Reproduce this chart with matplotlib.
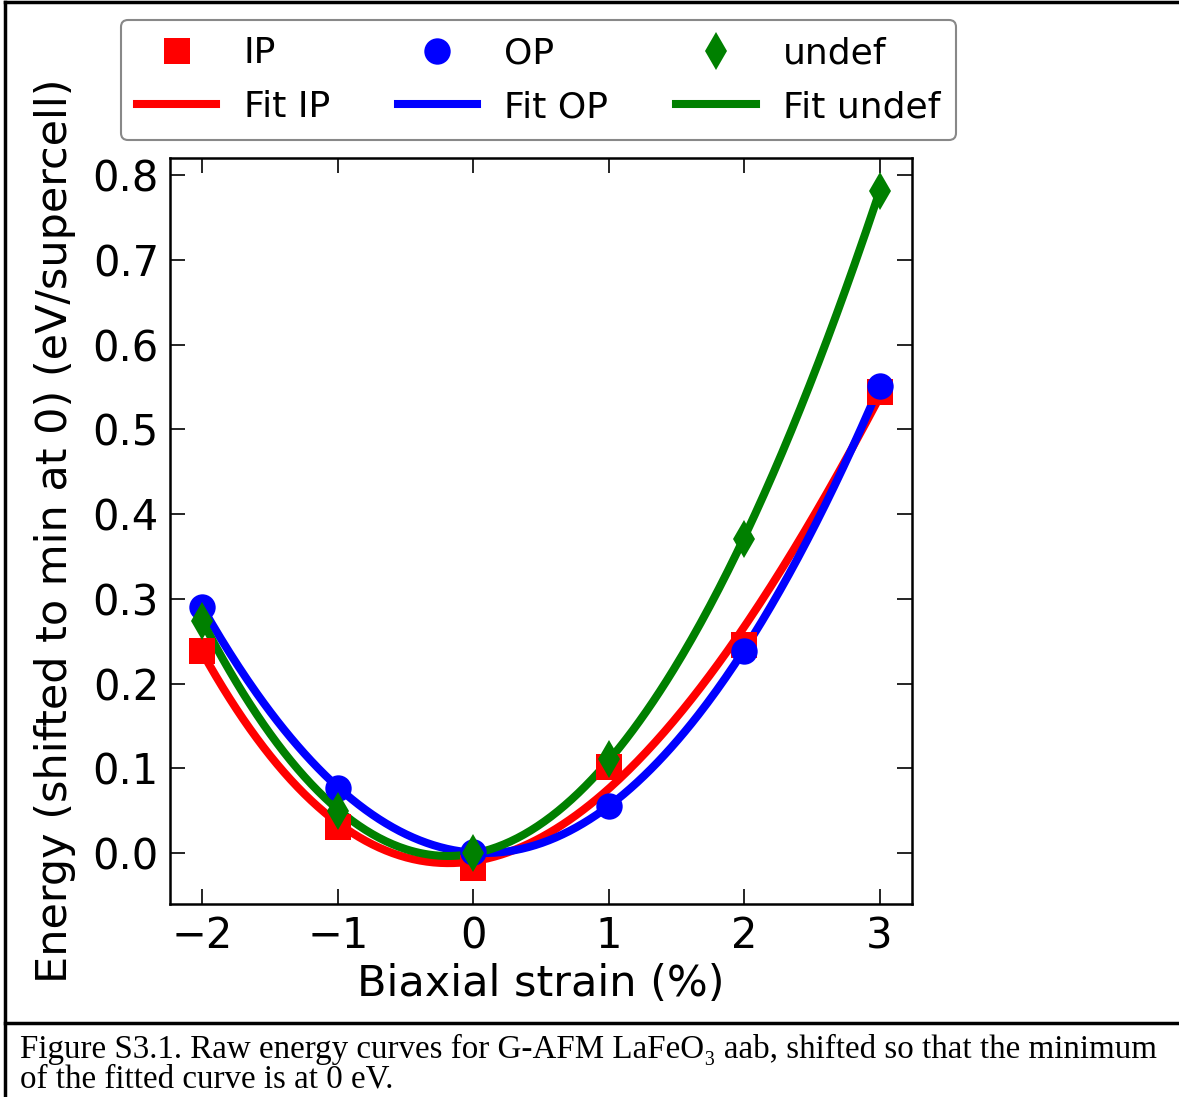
import numpy as np
import matplotlib
matplotlib.use("Agg")
import matplotlib.pyplot as plt
from matplotlib.lines import Line2D

strain = [-2, -1, 0, 1, 2, 3]
energy_ip = [0.239, 0.031, -0.018, 0.102, 0.245, 0.544]
energy_op = [0.290, 0.077, 0.001, 0.056, 0.239, 0.551]
energy_undef = [0.274, 0.050, 0.000, 0.111, 0.370, 0.781]
labels = ["IP", "OP", "undef"]
xticks = [-2, -1, 0, 1, 2, 3]
yticks = [0.0, 0.1, 0.2, 0.3, 0.4, 0.5, 0.6, 0.7, 0.8]
caption_lines = ["Figure S3.1. Raw energy curves for G-AFM LaFeO\u2083 aab, shifted so that the minimum",
                 "of the fitted curve is at 0 eV."]

plt.rcParams['font.family'] = ['DejaVu Sans']
W, H = 1179, 1097
fig = plt.figure(figsize=(W / 100, H / 100), dpi=100)

ax = fig.add_axes([170 / W, 1 - 904 / H, (912 - 170) / W, (904 - 158) / H])

series = [
    (energy_ip, 'red', 's', 19),
    (energy_op, 'blue', 'o', 19),
    (energy_undef, 'green', 'd', 19.5),
]
xs = np.array(strain, dtype=float)
xf = np.linspace(min(strain), max(strain), 300)
handles = []
for (ys, color, mk, ms), lab in zip(series, labels):
    h1, = ax.plot(xs, ys, linestyle='none', marker=mk, color=color,
                  markersize=ms, markeredgewidth=0, label=lab, zorder=3)
    coef = np.polyfit(xs, np.array(ys), 3)
    yf = np.polyval(coef, xf)
    h2, = ax.plot(xf, yf, '-', color=color, lw=5.8,
                  label="Fit " + lab, zorder=2)
    handles += [h1, h2]

ax.set_xlim(-2.24, 3.24)
ax.set_ylim(-0.06, 0.82)
ax.set_xticks(xticks)
ax.set_yticks(yticks)
ax.set_xticklabels([f"{t:d}".replace('-', '\u2212') for t in xticks])
ax.set_yticklabels([f"{t:.1f}" for t in yticks])
ax.tick_params(direction='in', length=11, width=1.2, labelsize=30,
               top=True, right=True, pad=8)
for sp in ax.spines.values():
    sp.set_linewidth(1.8)
ax.set_xlabel("Biaxial strain (%)", fontsize=31, labelpad=4)
ax.set_ylabel("Energy (shifted to min at 0) (eV/supercell)", fontsize=31, labelpad=12)

leg = fig.legend(handles=handles, loc='upper center',
                 bbox_to_anchor=(538.5 / W, 1 - 20 / H), ncol=3,
                 fontsize=26, numpoints=1, handlelength=2.2,
                 handletextpad=0.75, columnspacing=1.88, labelspacing=0.55,
                 borderpad=0.45, borderaxespad=0, fancybox=True, framealpha=1)
leg.get_frame().set_edgecolor('#888888')
leg.get_frame().set_linewidth(1.5)

# document-style frame
fig.add_artist(Line2D([5 / W, 1.0], [1 - 2 / H, 1 - 2 / H], color='black', lw=2.5,
                      transform=fig.transFigure))
fig.add_artist(Line2D([5 / W, 5 / W], [0, 1 - 2 / H], color='black', lw=2.5,
                      transform=fig.transFigure))
fig.add_artist(Line2D([5 / W, 1.0], [1 - 1023 / H, 1 - 1023 / H], color='black', lw=2.5,
                      transform=fig.transFigure))

for line, base in zip(caption_lines, [1058, 1088]):
    fig.text(20 / W, 1 - base / H, line, ha='left', va='baseline',
             family=['Liberation Serif', 'DejaVu Serif'], fontsize=23.8)

fig.savefig("out.png", dpi=100)
